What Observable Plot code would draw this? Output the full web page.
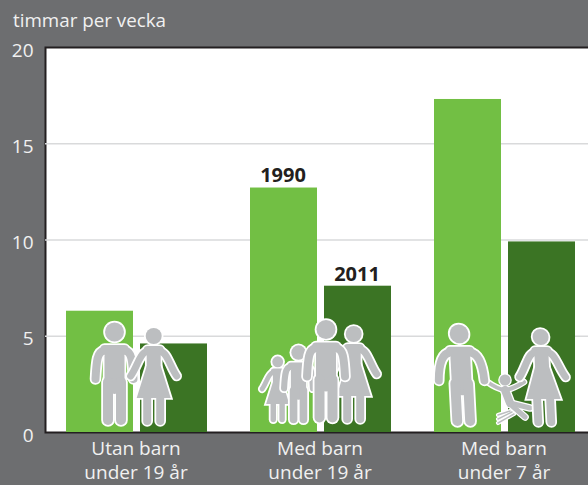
<!DOCTYPE html>
<html><head><meta charset="utf-8">
<script src="https://cdn.jsdelivr.net/npm/d3@7"></script>
<script src="https://cdn.jsdelivr.net/npm/@observablehq/plot@0.6"></script>
<style>
html,body{margin:0;padding:0;background:#6d6e70;width:588px;height:485px;overflow:hidden}
#t{position:absolute;left:13px;top:8px;font:18.8px "Open Sans",sans-serif;color:#f1f1f1;line-height:24px}
#c{position:absolute;left:0;top:0}
</style></head><body>
<div id="c"></div><div id="t">timmar per vecka</div>
<script>
const categories = ["Utan barn\nunder 19 år","Med barn\nunder 19 år","Med barn\nunder 7 år"];
const years = ["1990","2011"];
const values1990 = [6.3,12.7,17.3];
const values2011 = [4.6,7.6,9.9];
const rows = categories.flatMap((c,i)=>[
  {c,year:"1990",v:values1990[i]},{c,year:"2011",v:values2011[i]}]);
const labelled = rows.filter(d=>d.c===categories[1]);
const grey="#bcbec0";

const plot=Plot.plot({
  width:588,height:485,marginLeft:44,marginRight:-9,marginTop:47,marginBottom:53,
  style:{background:"transparent",fontFamily:"'Open Sans',sans-serif",overflow:"hidden"},
  fx:{domain:categories,paddingInner:0,paddingOuter:0,axis:null},
  x:{domain:years,paddingInner:0.09,paddingOuter:0.28,axis:null},
  y:{domain:[0,20],axis:null},
  marks:[
    Plot.frame({facet:"super",fill:"#fff",stroke:"#231f20",strokeWidth:2}),
    Plot.gridY([5,10,15],{stroke:"#d9dadb",strokeOpacity:1,strokeWidth:1.5}),
    Plot.barY(rows,{fx:"c",x:"year",y:"v",fill:d=>d.year==="1990"?"#72bf44":"#3b7424"}),
    Plot.text(labelled,{fx:"c",x:"year",y:"v",text:"year",dy:-12,dx:-1,fontWeight:700,fontSize:20,fill:"#231f20",fontFamily:"'Open Sans',sans-serif"}),
    Plot.axisY({ticks:[0,5,10,15,20],tickSize:0,tickPadding:12,dy:3,fontSize:19,color:"#f1f1f1",label:null,anchor:"left"}),
    Plot.text(categories,{fx:d=>d,frameAnchor:"bottom",lineAnchor:"top",dy:6,dx:-1.5,text:d=>d,fontSize:19,lineHeight:1.24,fill:"#f1f1f1"})
  ]
});
document.getElementById("c").appendChild(plot);

// Pictograms (decoration), anchored to the chart's own scales
const root=d3.select(plot).append("g");
const fxs=plot.scale("fx"), ys=plot.scale("y");
const band=i=>fxs.apply(categories[i]);
const y0=ys.apply(0);
function figure(kind,i,off,up,s,skew=0,spread=0){
  const g=root.append("g").attr("transform",`translate(${band(i)+off},${y0-up}) skewX(${skew}) scale(${s})`);
  const a=19+spread;
  const limbs = kind==="man" ? [
    [`M-11,-75 C-17,-74 ${-a+1},-66 ${-a},-47`,8],[`M11,-75 C17,-74 ${a-1},-66 ${a},-47`,8],
    ["M0,-70 L0,-42",20],["M-6.5,-44 L-6.5,-6",10],["M6.5,-44 L6.5,-6",10],
    ["M-10,-77 L10,-77",8]] : [
    ["M-8,-74 C-14,-72 -17,-58 -23,-50",7],["M8,-74 C14,-72 17,-58 23,-50",7],
    ["M-6,-76 L6,-76",8],["M0,-72 L0,-55",14],["M-6.5,-30 L-6.5,-5",8],["M6.5,-30 L6.5,-5",8]];
  const head = kind==="man" ? [0,-94,9.5] : [0,-90,8];
  const skirt = "M-7,-60 L7,-60 L17,-28 L-17,-28 Z";
  const pass=(col,extra)=>{
    for(const [d,w] of limbs) g.append("path").attr("d",d).attr("fill","none").attr("stroke",col).attr("stroke-width",w+extra).attr("stroke-linecap","round");
    if(kind==="woman") g.append("path").attr("d",skirt).attr("fill",col).attr("stroke",col).attr("stroke-width",extra||0.01);
    g.append("circle").attr("cx",head[0]).attr("cy",head[1]).attr("r",head[2]+extra/2).attr("fill",col);
  };
  pass("#fff",3.6/s); pass(grey,0);
}
function child(i,off){
  const g=root.append("g").attr("transform",`translate(${band(i)+off},${y0})`);
  const limbs=[["M-19,-51 Q-8,-43 0,-42",4],["M19,-50 Q8,-43 0,-42",4],["M0,-42 L5,-29",8],
    ["M5,-29 L25,-24",5],["M5,-28 L20,-15",5],["M-7,-17 L5,-21",1.5],["M-7,-13 L7,-20",1.5],["M-7,-9 L9,-18",1.5]];
  const pass=(col,e)=>{for(const [d,w] of limbs) g.append("path").attr("d",d).attr("fill","none").attr("stroke",col).attr("stroke-width",w+e).attr("stroke-linecap","round");
    g.append("circle").attr("cx",0).attr("cy",-52).attr("r",5.5+e/2).attr("fill",col);};
  pass("#fff",2.6);pass(grey,0);
}
const b1=band(0),b2=band(1),b3=band(2);
figure("man",0,114.5-b1,6,1); figure("woman",0,153.7-b1,6,1);
figure("woman",1,353.7-b2,8,1);
figure("woman",1,277.7-b2,9,.68);
figure("man",1,298.5-b2,8,.76);
figure("man",1,326-b2,8.5,1);
child(2,505-b3);
figure("man",2,464-b3,5,.99,3,4);
figure("woman",2,545-b3,5,1,2.8);
</script></body></html>
